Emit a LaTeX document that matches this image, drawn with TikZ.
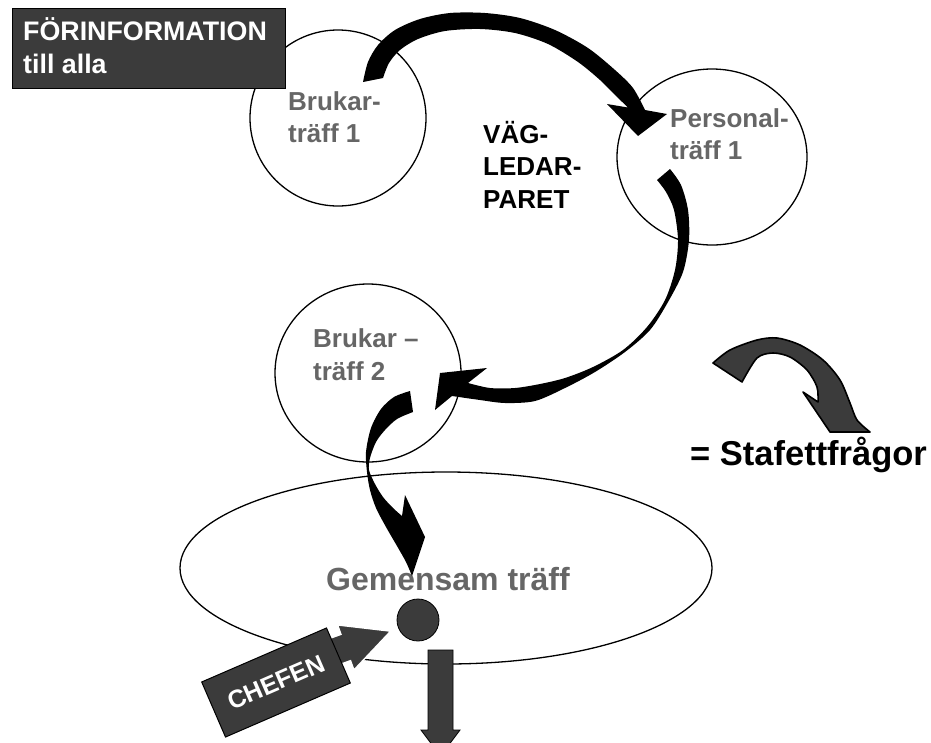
\documentclass[tikz,border=0pt]{standalone}
\usepackage{fontspec}
\setmainfont{Liberation Sans}
\usetikzlibrary{shapes.geometric}
\definecolor{dgray}{HTML}{3B3B3B}
\definecolor{tgray}{HTML}{666666}
\begin{document}
\begin{tikzpicture}[x=1pt,y=-1pt,
  ring/.style={ellipse, draw=black, line width=1.3pt, inner sep=0pt},
  lbl/.style={font=\bfseries\fontsize{26}{31}\selectfont, inner sep=0pt, anchor=base west},
  glbl/.style={lbl, text=tgray},
  blackarrow/.style={fill=black},
  grayarrow/.style={fill=dgray, draw=black, line width=1.6pt, line join=round},
  darkbox/.style={fill=dgray, draw=black, line width=1pt, inner sep=0pt}
]
\useasboundingbox (0,0) rectangle (931,742);
\clip (0,0) rectangle (931,742);

% circles / ellipses
\node[ring, minimum width=176pt, minimum height=176pt] (b1) at (338,118) {};
\node[ring, minimum width=190pt, minimum height=176pt] (p1) at (712,157) {};
\node[ring, minimum width=186pt, minimum height=178pt] (b2) at (368,373) {};
\node[ring, minimum width=532pt, minimum height=192pt] (gem) at (446,568) {};

% info box
\node[darkbox, minimum width=273pt, minimum height=80pt, anchor=north west] (info) at (12,8) {};
\node[lbl, text=white, font=\bfseries\fontsize{26.8}{31}\selectfont] (info1) at (23,40) {FÖRINFORMATION};
\node[lbl, text=white, font=\bfseries\fontsize{26.8}{31}\selectfont] (info2) at (23,73) {till alla};

% circle texts
\node[glbl] (b1a) at (288,110) {Brukar-};
\node[glbl] (b1b) at (288,142) {träff 1};
\node[glbl] (p1a) at (670,127) {Personal-};
\node[glbl] (p1b) at (670,159) {träff 1};
\node[glbl] (b2a) at (313,347) {Brukar –};
\node[glbl] (b2b) at (313,380) {träff 2};
\node[lbl] (v1) at (483,143) {VÄG-};
\node[lbl] (v2) at (483,175) {LEDAR-};
\node[lbl] (v3) at (483,208) {PARET};
\node[glbl, anchor=base, font=\bfseries\fontsize{32}{38}\selectfont] (gemt) at (448,590) {Gemensam träff};
\node[lbl, font=\bfseries\fontsize{34.5}{40}\selectfont] (staf) at (690,465) {= Stafettfrågor};

% arrow 1: Brukarträff 1 -> Personalträff 1
\path[blackarrow] plot[smooth] coordinates {(363,82) (368,62) (378,45) (395,30) (420,19) (450,13) (485,13) (520,18) (555,30) (588,48) (615,70) (633,88) (645,110)}
  -- (667,114) -- (638,136) -- (607,104) -- (628,107.5)
  -- plot[smooth] coordinates {(628,107.5) (615,95) (600,80) (578,62) (548,44) (515,33) (480,29) (445,31) (418,39) (400,50) (389,63) (383,78)}
  -- cycle;

% arrow 2: Personalträff 1 -> Brukarträff 2
\path[blackarrow] plot[smooth] coordinates {(670,169) (681,185) (688,210) (689,240) (683,272) (668,302) (650,330) (625,352) (595,372) (565,388) (535,401) (505,403) (480,400) (452,396)}
  -- (435,410) -- (440,373) -- (487,368) -- (468,383)
  -- plot[smooth] coordinates {(468,383) (490,388) (515,388) (540,384) (565,378) (593,367) (623,350) (647,327) (665,300) (675,270) (678,240) (674,210) (666,192) (657,180)}
  -- cycle;

% arrow 3: Brukarträff 2 -> Gemensam träff
\path[blackarrow] plot[smooth] coordinates {(410,391) (394,397) (381,409) (371,428) (366,452) (367,472) (370,490) (376,508) (386,527) (397,546) (406,562) (412,576)}
  -- (425,537) -- (405,495) -- (402,516)
  -- plot[smooth] coordinates {(402,516) (393,508) (383,497) (375,484) (369,470) (370,458) (376,442) (385,430) (397,419) (413,412)}
  -- cycle;

% legend arrow
\path[grayarrow] plot[smooth] coordinates {(713,363) (730,350) (757,340) (777,338) (800,345) (823,360) (840,380) (850,403) (857,420) (870,432)}
  -- (830,432) -- (803,392) -- (818,402)
  -- plot[smooth] coordinates {(818,402) (817,387) (807,370) (790,357) (773,353) (757,358) (742,382)}
  -- cycle;

% chef
\node[circle, fill=dgray, draw=black, line width=0.8pt, minimum size=42pt, inner sep=0pt] (dot) at (418,620) {};
\path[fill=dgray, draw=black, line width=0.8pt] (428,650) -- (453,650) -- (453,730) -- (460,730) -- (440.5,756) -- (421,730) -- (428,730) -- cycle;
\path[fill=dgray, draw=white, line width=1.5pt, line join=miter] (320.2,641.8) -- (340.9,634.3) -- (337.5,624.9) -- (390.8,631.1) -- (353.9,670.1) -- (350.5,660.7) -- (329.8,668.2) -- cycle;
\node[darkbox, rotate=23.4, minimum width=136pt, minimum height=60pt, text=white, font=\bfseries\fontsize{25}{30}\selectfont] (chef) at (276,682.5) {CHEFEN};
\end{tikzpicture}
\end{document}
